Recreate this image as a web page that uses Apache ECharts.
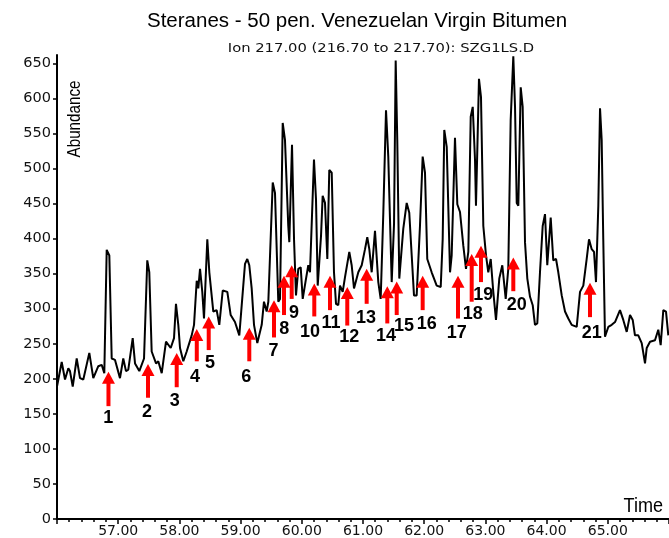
<!DOCTYPE html>
<html>
<head>
<meta charset="utf-8">
<script src="https://cdn.jsdelivr.net/npm/echarts@6/dist/echarts.min.js"></script>
<style>
  html, body { margin: 0; padding: 0; background: #fff; }
  #chart { width: 669px; height: 538px; }
</style>
</head>
<body>
<div id="chart"></div>
<script>
// Ion 217 trace (m/z 216.7-217.7), retention time in minutes
const retentionTime = [
  56.000, 56.077, 56.131, 56.185, 56.212, 56.257, 56.322, 56.376, 56.430, 56.528,
  56.593, 56.675, 56.730, 56.773, 56.812, 56.855, 56.894, 56.948, 56.975, 57.029,
  57.083, 57.127, 57.165, 57.237, 57.275, 57.345, 57.422, 57.475, 57.508, 57.547,
  57.618, 57.655, 57.711, 57.781, 57.858, 57.912, 57.944, 57.982, 58.010, 58.064,
  58.119, 58.201, 58.239, 58.283, 58.309, 58.337, 58.374, 58.402, 58.456, 58.489,
  58.554, 58.609, 58.652, 58.708, 58.783, 58.838, 58.908, 58.979, 59.072, 59.109,
  59.142, 59.181, 59.219, 59.273, 59.345, 59.382, 59.426, 59.453, 59.525, 59.562,
  59.616, 59.644, 59.688, 59.725, 59.779, 59.796, 59.840, 59.873, 59.905, 59.943,
  59.982, 60.015, 60.069, 60.106, 60.134, 60.199, 60.232, 60.260, 60.286, 60.314,
  60.341, 60.379, 60.417, 60.449, 60.489, 60.526, 60.559, 60.596, 60.624, 60.668,
  60.706, 60.776, 60.815, 60.853, 60.923, 60.979, 61.033, 61.070, 61.103, 61.142,
  61.196, 61.250, 61.289, 61.332, 61.376, 61.413, 61.469, 61.507, 61.534, 61.560,
  61.593, 61.658, 61.714, 61.756, 61.796, 61.833, 61.877, 61.931, 61.975, 62.013,
  62.050, 62.122, 62.204, 62.270, 62.302, 62.328, 62.368, 62.422, 62.449, 62.503,
  62.541, 62.585, 62.639, 62.683, 62.721, 62.760, 62.793, 62.830, 62.846, 62.868,
  62.895, 62.928, 62.966, 63.010, 63.047, 63.087, 63.129, 63.173, 63.227, 63.276,
  63.332, 63.374, 63.413, 63.456, 63.484, 63.512, 63.538, 63.577, 63.609, 63.647,
  63.685, 63.729, 63.773, 63.810, 63.848, 63.892, 63.936, 63.974, 64.011, 64.067,
  64.109, 64.154, 64.191, 64.247, 64.301, 64.355, 64.410, 64.492, 64.546, 64.600,
  64.655, 64.693, 64.737, 64.775, 64.807, 64.845, 64.873, 64.900, 64.926, 64.954,
  65.008, 65.064, 65.118, 65.199, 65.253, 65.309, 65.363, 65.407, 65.444, 65.498,
  65.554, 65.608, 65.636, 65.690, 65.771, 65.825, 65.864, 65.907, 65.951, 65.989
];
const abundance = [
  189, 224, 199, 215, 211, 189, 229, 201, 199, 237,
  201, 218, 220, 208, 384, 376, 229, 227, 225, 201,
  229, 211, 213, 258, 222, 211, 229, 369, 352, 239,
  222, 225, 208, 253, 244, 258, 307, 277, 244, 225,
  239, 262, 277, 340, 329, 357, 324, 286, 399, 352,
  296, 298, 277, 326, 324, 291, 281, 262, 364, 371,
  362, 329, 277, 251, 277, 310, 296, 310, 480, 465,
  310, 314, 565, 541, 418, 395, 534, 399, 319, 357,
  359, 314, 343, 362, 352, 513, 456, 333, 331, 404,
  461, 451, 371, 498, 494, 352, 307, 305, 333, 324,
  345, 381, 362, 329, 352, 362, 385, 402, 385, 352,
  411, 338, 314, 437, 583, 517, 338, 421, 654, 541,
  343, 414, 451, 437, 376, 319, 319, 418, 517, 494,
  371, 352, 333, 331, 399, 555, 531, 352, 376, 544,
  449, 438, 390, 357, 381, 574, 588, 513, 447, 527,
  628, 602, 418, 376, 352, 371, 324, 284, 343, 362,
  314, 357, 569, 660, 588, 451, 447, 616, 588, 395,
  343, 317, 305, 277, 279, 352, 418, 435, 362, 430,
  369, 371, 352, 319, 296, 286, 277, 274, 324, 333,
  371, 399, 385, 381, 338, 447, 586, 541, 399, 260,
  274, 277, 281, 298, 284, 267, 291, 284, 262, 262,
  251, 222, 244, 253, 255, 270, 248, 298, 296, 262
];

// Numbered peak markers: arrow position, tip and tail heights, and label anchor
const peakNumbers = ['1','2','3','4','5','6','7','8','9','10','11','12','13','14','15','16','17','18','19','20','21'];
const arrowTime  = [56.841, 57.487, 57.956, 58.284, 58.479, 59.142, 59.546, 59.709, 59.835, 60.204, 60.461,
                    60.743, 61.060, 61.397, 61.551, 61.975, 62.552, 62.776, 62.928, 63.456, 64.709];
const arrowTip   = [210, 221, 237, 271, 289, 273, 312, 347, 362, 336, 347, 331, 357, 332, 339, 347, 347, 378, 390, 373, 337];
const arrowTail  = [161, 173, 188, 225, 241, 225, 259, 291, 314, 289, 298, 276, 307, 279, 291, 298, 286, 310, 338, 325, 288];
const labelTime  = [56.838, 57.471, 57.925, 58.255, 58.500, 59.093, 59.538, 59.714, 59.873, 60.134, 60.477,
                    60.775, 61.049, 61.376, 61.670, 62.041, 62.531, 62.792, 62.966, 63.511, 64.737];
const labelAbund = [144, 153, 168, 202, 222, 202, 239, 271, 294, 267, 279, 259, 287, 261, 276, 278, 265, 292, 320, 305, 266];

// Axis ticks
const xTickLabels = [57, 58, 59, 60, 61, 62, 63, 64, 65];
const yTickLabels = [0, 50, 100, 150, 200, 250, 300, 350, 400, 450, 500, 550, 600, 650];

const traceData = retentionTime.map((t, i) => [t, abundance[i]]);
const arrowData = arrowTime.map((t, i) => [t, arrowTip[i], arrowTail[i], labelTime[i], labelAbund[i]]);

const tickFont = '"DejaVu Sans", "Liberation Sans", sans-serif';
const textFont = '"Liberation Sans", Arial, sans-serif';

const chart = echarts.init(document.getElementById('chart'), null, { renderer: 'canvas' });

chart.setOption({
  backgroundColor: '#ffffff',
  animation: false,
  title: {
    text: 'Steranes - 50 pen. Venezuelan Virgin Bitumen',
    left: 147,
    top: 11,
    padding: 0,
    textStyle: { fontFamily: textFont, fontSize: 20.5, fontWeight: 'normal', color: '#000' }
  },
  graphic: [
    {
      type: 'text',
      x: 381, y: 49,
      scaleX: 1.23,
      style: {
        text: 'Ion 217.00 (216.70 to 217.70): SZG1LS.D',
        font: '12px ' + tickFont,
        fill: '#111',
        align: 'center',
        verticalAlign: 'middle'
      }
    },
    {
      // condensed axis title, reading bottom to top
      type: 'text',
      x: 75, y: 119,
      rotation: Math.PI / 2,
      scaleX: 0.8,
      style: {
        text: 'Abundance',
        font: '19px ' + textFont,
        fill: '#000',
        align: 'center',
        verticalAlign: 'middle'
      }
    },
    {
      type: 'text',
      x: 663, y: 506,
      scaleX: 0.86,
      style: {
        text: 'Time',
        font: '21px ' + textFont,
        fill: '#000',
        align: 'right',
        verticalAlign: 'middle'
      }
    }
  ],
  grid: { left: 57, right: 0, top: 55, bottom: 16, containLabel: false },
  xAxis: {
    type: 'value',
    min: 56,
    max: 66,
    interval: 1,
    axisLine: { show: true, lineStyle: { color: '#000', width: 2 } },
    axisTick: { show: true, length: 5, lineStyle: { color: '#000', width: 1.5 } },
    minorTick: { show: true, splitNumber: 5, length: 3, lineStyle: { color: '#000', width: 1.5 } },
    splitLine: { show: false },
    axisLabel: {
      customValues: xTickLabels,
      margin: 5,
      fontFamily: tickFont,
      fontSize: 14,
      color: '#111',
      formatter: v => v.toFixed(2)
    }
  },
  yAxis: {
    type: 'value',
    min: 0,
    max: 662,
    interval: 50,
    axisLine: { show: true, lineStyle: { color: '#000', width: 2 } },
    axisTick: { show: true, customValues: yTickLabels, length: 4, lineStyle: { color: '#000', width: 1.5 } },
    splitLine: { show: false },
    axisLabel: {
      customValues: yTickLabels,
      margin: 6,
      fontFamily: tickFont,
      fontSize: 14.5,
      color: '#111'
    }
  },
  series: [
    {
      name: 'Ion 217',
      type: 'line',
      data: traceData,
      showSymbol: false,
      symbol: 'none',
      lineStyle: { color: '#000', width: 2 },
      z: 2
    },
    {
      name: 'Peaks',
      type: 'custom',
      data: arrowData,
      encode: { x: [0, 3], y: [1, 2, 4] },
      z: 3,
      renderItem: function (params, api) {
        const t = api.value(0);
        const tip = api.coord([t, api.value(1)]);
        const tail = api.coord([t, api.value(2)]);
        const lbl = api.coord([api.value(3), api.value(4)]);
        const headH = 12, headW = 13, shaftW = 4;
        return {
          type: 'group',
          children: [
            {
              type: 'polygon',
              shape: { points: [[tip[0], tip[1]], [tip[0] - headW / 2, tip[1] + headH], [tip[0] + headW / 2, tip[1] + headH]] },
              style: { fill: '#ff0000' }
            },
            {
              type: 'rect',
              shape: { x: tip[0] - shaftW / 2, y: tip[1] + headH - 1, width: shaftW, height: tail[1] - tip[1] - headH + 1 },
              style: { fill: '#ff0000' }
            },
            {
              type: 'text',
              x: lbl[0], y: lbl[1],
              style: {
                text: peakNumbers[params.dataIndex],
                font: 'bold 18px ' + textFont,
                fill: '#000',
                align: 'center',
                verticalAlign: 'middle'
              }
            }
          ]
        };
      }
    }
  ]
});
</script>
</body>
</html>
